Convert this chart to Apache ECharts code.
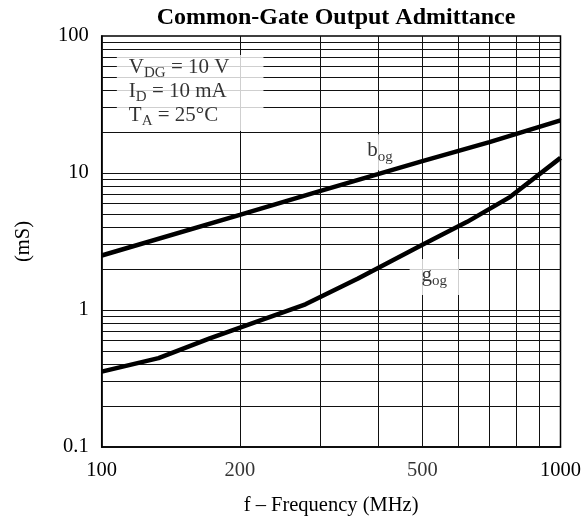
<!DOCTYPE html>
<html><head><meta charset="utf-8">
<script src="https://cdn.jsdelivr.net/npm/echarts@6/dist/echarts.min.js"></script>
<style>html,body{margin:0;padding:0;background:#fff}#c{width:584px;height:527px}</style>
</head><body><div id="c"></div>
<script>
// ---- data ----
const freqB = [100, 200, 300, 400, 500, 700, 1000];
const bog   = [2.5, 4.95, 7.4, 9.8, 12.2, 16.8, 24.2];
const freqG = [100, 133, 172, 278, 362, 500, 626, 777, 1000];
const gog   = [0.355, 0.445, 0.62, 1.1, 1.7, 3.0, 4.4, 6.7, 12.9];
const xMinorGrid = [200, 300, 400, 500, 600, 700, 800, 900];
const yGrid = [0.2,0.3,0.4,0.5,0.6,0.7,0.8,0.9,1,2,3,4,5,6,7,8,9,10,20,30,40,50,60,70,80,90];
const xExtraTicks = [200, 500];
const yBottom = 0.1;
const conditionsAnchor = [107.9, 72.7];
const conditionsText = ['{m|V}{s|DG}{m| = 10 V}', '{m|I}{s|D}{m| = 10 mA}', '{m|T}{s|A}{m| = 25°C}'];
const curveLabels = [
  { name: 'b', sub: 'og', at: [404, 14.2] },
  { name: 'g', sub: 'og', at: [531, 1.74] }
];

const FONT = "'Liberation Serif', 'Times New Roman', serif";
const richSub = {
  m: { fontFamily: FONT, fontSize: 21, color: '#000', lineHeight: 24, verticalAlign: 'top' },
  s: { fontFamily: FONT, fontSize: 15, color: '#000', lineHeight: 24, verticalAlign: 'bottom' }
};
const fmt = v => String(+(+v).toPrecision(6));

const chart = echarts.init(document.getElementById('c'), null, { renderer: 'canvas' });
chart.setOption({
  animation: false,
  backgroundColor: '#fff',
  title: {
    text: 'Common-Gate Output Admittance',
    left: 331, top: 1, textAlign: 'center',
    textStyle: { fontFamily: FONT, fontWeight: 'bold', fontSize: 24, color: '#000' }
  },
  grid: { left: 101.7, right: 20, top: 36, bottom: 80, show: true, borderColor: '#000', borderWidth: 1.5, backgroundColor: 'transparent' },
  xAxis: {
    type: 'log', logBase: 10, min: 100, max: 1000,
    name: 'f – Frequency (MHz)', nameLocation: 'middle', nameGap: 48,
    nameTextStyle: { fontFamily: FONT, fontSize: 20.5, color: '#000' },
    axisLine: { show: true, lineStyle: { color: '#000', width: 1.5 } },
    axisTick: { show: false },
    splitLine: { show: false },
    axisLabel: { fontFamily: FONT, fontSize: 20.5, color: '#000', margin: 13, formatter: fmt }
  },
  yAxis: {
    type: 'log', logBase: 10, min: 0.1, max: 100,
    name: '(mS)', nameLocation: 'middle', nameGap: 68,
    nameTextStyle: { fontFamily: FONT, fontSize: 20.5, color: '#000' },
    axisLine: { show: true, lineStyle: { color: '#000', width: 1.5 } },
    axisTick: { show: false },
    splitLine: { show: false },
    axisLabel: { fontFamily: FONT, fontSize: 20.5, color: '#000', margin: 13, padding: [5, 0, 0, 0], formatter: fmt }
  },
  series: [
    {
      type: 'line', name: 'grid', data: [], silent: true, z: 1,
      markLine: {
        silent: true, symbol: 'none', z: 1, animation: false,
        label: { show: false },
        lineStyle: { color: '#111', width: 1, type: 'solid' },
        emphasis: { disabled: true },
        data: xMinorGrid.map(v => ({ xAxis: v })).concat(yGrid.map(v => ({ yAxis: v })))
      }
    },
    {
      type: 'line', name: 'bog', data: freqB.map((f, i) => [f, bog[i]]),
      showSymbol: false, symbol: 'none', z: 4,
      lineStyle: { color: '#000', width: 4.5 }
    },
    {
      type: 'line', name: 'gog', data: freqG.map((f, i) => [f, gog[i]]),
      showSymbol: false, symbol: 'none', z: 4,
      lineStyle: { color: '#000', width: 4.5 }
    },
    {
      type: 'scatter', name: 'xticks', symbolSize: 0, z: 3, silent: true,
      data: xExtraTicks.map(v => [v, yBottom]),
      label: { show: true, position: 'bottom', distance: 13, fontFamily: FONT, fontSize: 20.5, color: '#000',
        formatter: p => fmt(p.value[0]) }
    },
    {
      type: 'scatter', name: 'conditions', symbolSize: 0, z: 6, silent: true,
      data: [conditionsAnchor],
      label: { show: true, position: [0, 0], align: 'left', verticalAlign: 'top',
        backgroundColor: '#fff', padding: [2, 34, 2, 12],
        formatter: conditionsText.join('\n'), rich: richSub }
    },
    {
      type: 'scatter', name: 'curveLabels', symbolSize: 0, z: 3, silent: true,
      data: curveLabels.map(c => ({ value: c.at, lbl: '{m|' + c.name + '}{s|' + c.sub + '}' })),
      label: { show: true, position: 'inside', align: 'center', verticalAlign: 'middle',
        backgroundColor: '#fff', padding: [6, 12, 6, 12],
        formatter: p => p.data.lbl, rich: richSub }
    }
  ]
});
</script></body></html>
